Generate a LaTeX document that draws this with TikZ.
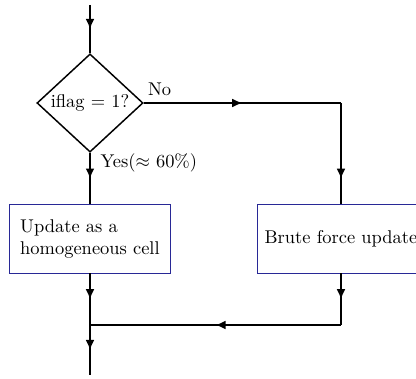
\documentclass[tikz,border=0pt]{standalone}
\usepackage{tikz}
\usetikzlibrary{shapes.geometric,decorations.markings,arrows.meta}
\definecolor{boxblue}{RGB}{40,40,150}

\begin{document}
\begin{tikzpicture}[x=0.01905cm, y=-0.01905cm,
    decision/.style={diamond, draw, thick, inner sep=0pt, minimum width=2.02cm, minimum height=1.87cm},
    block/.style={rectangle, draw=boxblue, minimum height=1.3cm},
    midarrow/.style={thick, postaction={decorate}, decoration={markings, mark=at position 0.5 with {\arrow{Latex[length=5.5pt,width=4.8pt]}}}}]
    \useasboundingbox (0,0) rectangle (416,379);
    % Place nodes
    \coordinate (S) at (90,5);
    \node [decision] (D) at (90,103) {iflag $=$ 1?};
    \node [block, minimum width=3.07cm, align=left] (L) at (90,239) {Update as a\\homogeneous cell};
    \node [block, minimum width=3.2cm] (R) at (341,239) {Brute force update};
    \coordinate (C1) at (341,103);
    \coordinate (C1b) at (341,153);
    \coordinate (C2) at (341,325);
    \coordinate (M) at (90,325);
    \coordinate (E) at (90,375);
    % Connectors
    \path [draw, midarrow] (S) -- (D.north);
    \path [draw, midarrow] (D.south) -- node [right, pos=0.2, xshift=2pt] {Yes($\approx$ 60\%)} (L.north);
    \path [draw, midarrow] (D.east) -- node [above, pos=0.08] {No} (C1);
    \path [draw, thick] (C1) -- (C1b);
    \path [draw, midarrow] (C1b) -- (R.north);
    \path [draw, midarrow] (L.south) -- (M);
    \path [draw, midarrow] (R.south) -- (C2);
    \path [draw, midarrow] (C2) -- (M);
    \path [draw, midarrow] (M) -- (E);
\end{tikzpicture}
\end{document}
